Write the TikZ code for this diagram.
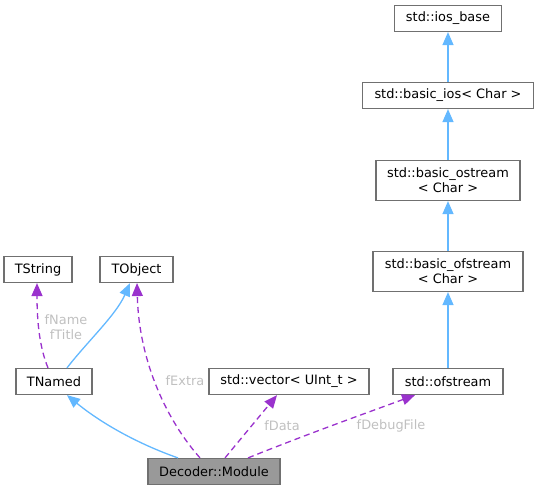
\documentclass[tikz,border=0pt]{standalone}
\usepackage{fontspec}
\setmainfont{DejaVu Sans}
\usetikzlibrary{arrows.meta}
\definecolor{boxborder}{HTML}{707070}
\definecolor{modfill}{HTML}{999999}
\definecolor{inhblue}{HTML}{63B8FF}
\definecolor{usepurple}{HTML}{9A32CD}
\definecolor{lblgrey}{HTML}{C0C0C0}
\tikzset{
  cls/.style={draw=boxborder, line width=1.2bp, fill=white, inner sep=0pt, minimum height=26bp, align=center,
              font=\fontsize{12.9bp}{15bp}\selectfont},
  cls2/.style={cls, minimum height=40bp},
  inh/.style={draw=inhblue, line width=1.3bp, -{Triangle[length=13bp,width=11bp]}},
  usage/.style={draw=usepurple, line width=1.3bp, dash pattern=on 6bp off 4bp, -{Triangle[length=13bp,width=11bp]}},
  elabel/.style={text=lblgrey, inner sep=0pt, align=center, font=\fontsize{12.9bp}{15bp}\selectfont}
}
\begin{document}
\begin{tikzpicture}[x=1bp,y=-1bp]
\useasboundingbox (0,0) rectangle (539,491);
% nodes
\node[cls, minimum width=107bp] (iosb) at (448,18.5) {std::ios\_base};
\node[cls, minimum width=171bp] (bios) at (448,95.5) {std::basic\_ios< Char >};
\node[cls2, minimum width=144bp] (bost) at (448,180.5) {std::basic\_ostream\\< Char >};
\node[cls2, minimum width=150bp] (bofs) at (448,271.5) {std::basic\_ofstream\\< Char >};
\node[cls, minimum width=110bp] (ofs) at (448,381.5) {std::ofstream};
\node[cls, minimum width=160bp] (vec) at (289,381.5) {std::vector< UInt\_t >};
\node[cls, minimum width=76bp] (tnamed) at (54,381.5) {TNamed};
\node[cls, minimum width=68bp] (tstring) at (38,269.5) {TString};
\node[cls, minimum width=73bp] (tobject) at (136.5,269.5) {TObject};
\node[cls, minimum width=132bp, fill=modfill] (mod) at (214,471.5) {Decoder::Module};
% inheritance
\draw[inh] (bios) -- (iosb);
\draw[inh] (bost) -- (bios);
\draw[inh] (bofs) -- (bost);
\draw[inh] (ofs) -- (bofs);
\draw[inh] ([xshift=13bp]tnamed.north) .. controls +(20,-26) and +(-14,32) .. ([xshift=-6.5bp]tobject.south);
\draw[inh] ([xshift=-36bp]mod.north) .. controls +(-40,-14) and +(34,28) .. ([xshift=13bp]tnamed.south);
% usage
\draw[usage] ([xshift=-6bp]tnamed.north) .. controls +(-9,-22) and +(0,36) .. ([xshift=-1bp]tstring.south);
\draw[usage] ([xshift=-14bp]mod.north) .. controls +(-32,-36) and +(2,80) .. ([xshift=0.5bp]tobject.south);
\draw[usage] ([xshift=11bp]mod.north) -- ([xshift=-12bp]vec.south);
\draw[usage] ([xshift=34bp]mod.north) .. controls +(60,-24) and +(-60,22) .. ([xshift=-33bp]ofs.south);
% labels
\node[elabel] (lname) at (66,327) {fName\\fTitle};
\node[elabel] (lextra) at (185,381) {fExtra};
\node[elabel] (ldata) at (282,426) {fData};
\node[elabel] (ldebug) at (391,426) {fDebugFile};
\end{tikzpicture}
\end{document}
